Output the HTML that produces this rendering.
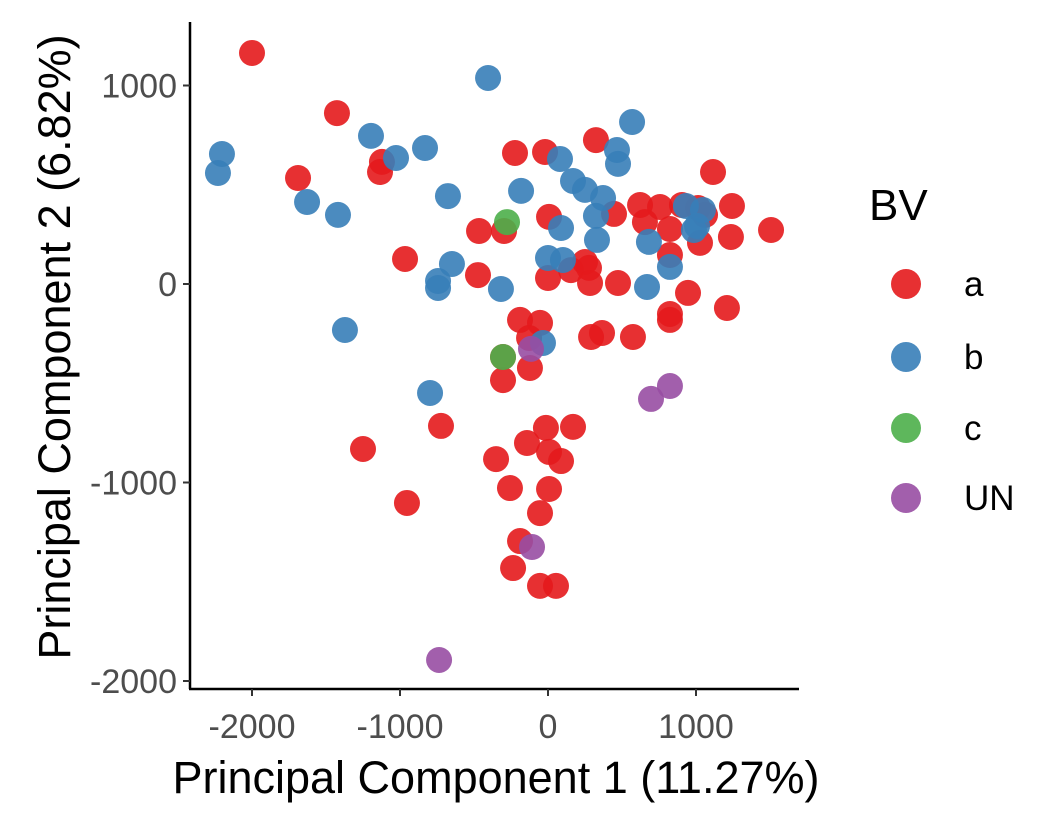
<!DOCTYPE html>
<html><head><meta charset="utf-8"><style>
html,body{margin:0;padding:0;background:#fff;}
svg{display:block;font-family:"Liberation Sans",Arial,sans-serif;}
</style></head><body>
<svg id="chart" width="1062" height="826">
<g id="points"></g>
<g id="axes"></g>
<g id="legend"></g>
</svg>
<script>
const groups = ["a","b","c","UN"];
const colors = ["#E41A1C","#377EB8","#4DAF4A","#984EA3"];
const aX = [-2000,-1426,-1689,-1122,-1135,-966,-1250,-953,-723,-466,-473,-297,-223,-20,324,7,155,250,277,0,284,291,473,446,622,655,757,905,824,824,1027,1014,1061,1115,1243,1236,1507,946,1209,824,824,365,574,-189,-54,-128,-304,-304,-122,-14,169,-142,-351,7,88,7,-257,-54,-189,-236,-54,54];
const aY = [1164,861,534,615,564,126,-831,-1103,-715,267,45,267,660,665,725,338,70,111,81,30,5,-267,5,353,398,312,388,398,277,146,207,383,348,564,393,237,272,-45,-121,-181,-151,-247,-267,-181,-196,-272,-368,-484,-423,-725,-720,-801,-882,-846,-892,-1033,-1028,-1154,-1295,-1431,-1521,-1521];
const bX = [-2203,-2230,-1628,-1419,-1196,-1027,-831,-676,-649,-743,-743,-318,-1372,-797,-405,-182,81,169,250,372,324,331,88,0,101,466,473,568,682,669,824,932,986,1007,1047,-34];
const bY = [655,559,413,348,746,635,685,443,101,15,-20,-25,-232,-549,1038,469,630,519,474,433,343,222,282,131,121,675,605,816,212,-15,86,393,272,292,373,-297];
const cX = [-277,-304];
const cY = [312,-368];
const uX = [-736,696,824,-108,-115];
const uY = [-1894,-579,-514,-1325,-327];
const xTicks = [-2000,-1000,0,1000];
const yTicks = [1000,0,-1000,-2000];

const NS="http://www.w3.org/2000/svg";
function xs(v){return 548+v*0.148;}
function ys(v){return 284-v*0.1985;}
function mk(tag,attrs,parent,text){const e=document.createElementNS(NS,tag);for(const k in attrs)e.setAttribute(k,attrs[k]);if(text!==undefined)e.textContent=text;parent.appendChild(e);return e;}

const pts=document.getElementById('points');
const series=[[aX,aY],[bX,bY],[cX,cY],[uX,uY]];
series.forEach((s,gi)=>{
  s[0].forEach((x,i)=>{
    const c=mk('circle',{cx:xs(x),cy:ys(s[1][i]),r:13,fill:colors[gi],'fill-opacity':0.9},pts);
    
    
  });
});

const ax=document.getElementById('axes');
const yl=mk('line',{x1:190,y1:22,x2:190,y2:689,stroke:'#000','stroke-width':2.5},ax);

const xl=mk('line',{x1:189,y1:689,x2:799,y2:689,stroke:'#000','stroke-width':2.5},ax);

xTicks.forEach(t=>{
  mk('line',{x1:xs(t),y1:689,x2:xs(t),y2:696,stroke:'#333','stroke-width':2},ax);
  const tx=mk('text',{x:xs(t),y:738,'text-anchor':'middle','font-size':34,fill:'#4d4d4d'},ax,String(t));
  
});
yTicks.forEach(t=>{
  mk('line',{x1:183,y1:ys(t),x2:190,y2:ys(t),stroke:'#333','stroke-width':2},ax);
  const tx=mk('text',{x:177,y:ys(t)+12,'text-anchor':'end','font-size':34,fill:'#4d4d4d'},ax,String(t));
  
});
const xt=mk('text',{x:496,y:793,'text-anchor':'middle','font-size':45,fill:'#000'},ax,'Principal Component 1 (11.27%)');

const yt=mk('text',{x:0,y:0,'text-anchor':'middle','font-size':45,fill:'#000',transform:'translate(70,347) rotate(-90)'},ax,'Principal Component 2 (6.82%)');


const lg=document.getElementById('legend');
const lt=mk('text',{x:869,y:220,'font-size':44,fill:'#000'},lg,'BV');

const ly=[284,357,428,498];
groups.forEach((g,i)=>{
  const c=mk('circle',{cx:906,cy:ly[i],r:15,fill:colors[i],'fill-opacity':0.9},lg);
  
  const t=mk('text',{x:964,y:ly[i]+12,'font-size':35,fill:'#000'},lg,g);
  
});
</script>
</body></html>
